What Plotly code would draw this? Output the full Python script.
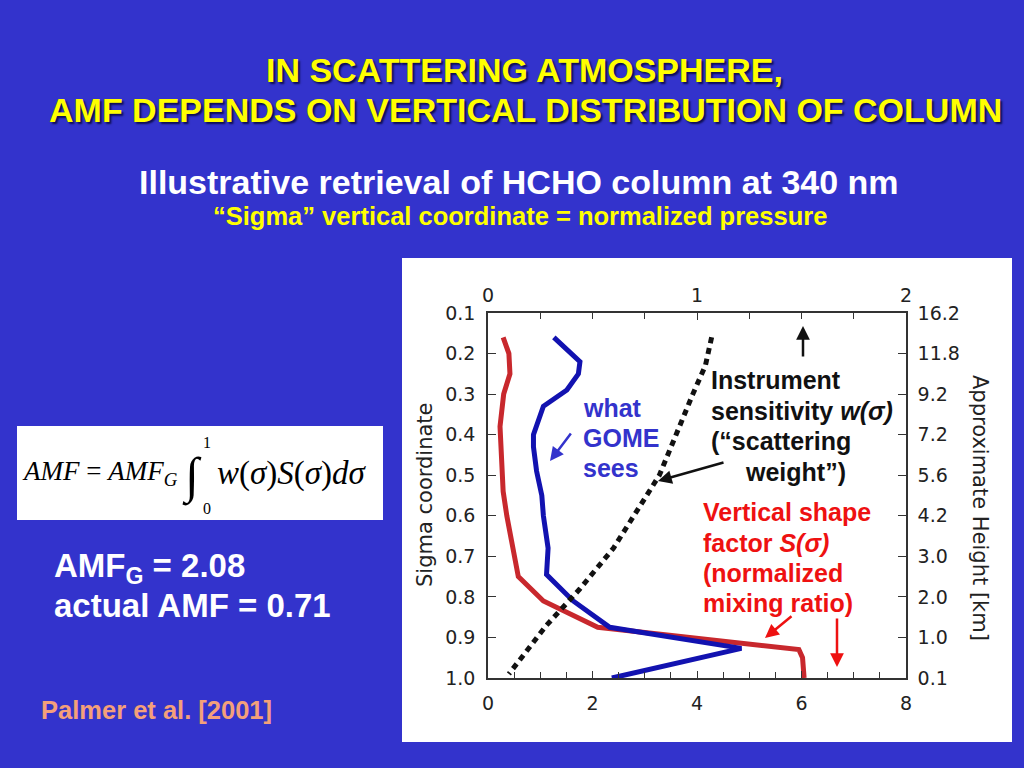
import plotly.graph_objects as go

# ---------------- data ----------------
sigma_ticks = [0.1, 0.2, 0.3, 0.4, 0.5, 0.6, 0.7, 0.8, 0.9, 1.0]
sigma_labels = ["0.1", "0.2", "0.3", "0.4", "0.5", "0.6", "0.7", "0.8", "0.9", "1.0"]
height_labels = ["16.2", "11.8", "9.2", "7.2", "5.6", "4.2", "3.0", "2.0", "1.0", "0.1"]

# vertical shape factor S(sigma)  (bottom axis)
shape_sigma = [0.16, 0.20, 0.25, 0.30, 0.38, 0.46, 0.54, 0.60, 0.75, 0.81, 0.875, 0.93, 0.95, 1.0]
shape_val = [0.29, 0.40, 0.42, 0.30, 0.23, 0.26, 0.29, 0.36, 0.58, 1.06, 2.10, 5.95, 6.02, 6.05]

# what GOME sees w*S (bottom axis)
gome_sigma = [0.16, 0.22, 0.25, 0.29, 0.33, 0.40, 0.43, 0.49, 0.55, 0.60, 0.68, 0.745, 0.81, 0.875, 0.927, 1.0]
gome_val = [1.26, 1.76, 1.73, 1.51, 1.06, 0.87, 0.87, 0.93, 1.03, 1.06, 1.15, 1.12, 1.63, 2.33, 4.85, 2.37]

# scattering weight w(sigma)  (top axis)
w_sigma = [0.16, 0.23, 0.30, 0.40, 0.50, 0.68, 0.78, 0.87, 0.99]
w_val = [1.07, 1.04, 0.98, 0.90, 0.82, 0.60, 0.44, 0.28, 0.10]

# ---------------- layout helpers ----------------
W, H = 1024, 768
PL, PR, PT, PB = 488, 906, 313, 678   # plot area in pixels


def px(x):
    return (x - PL) / (PR - PL)


def py(y):
    return (PB - y) / (PB - PT)


BG = "#3333CC"
SANS = "Arial, Liberation Sans, sans-serif"
SERIF = "Times New Roman, Liberation Serif, serif"
AXFONT = dict(family="DejaVu Sans, sans-serif", size=19, color="#222222")

fig = go.Figure()

fig.add_trace(go.Scatter(x=shape_val, y=shape_sigma, mode="lines",
                         line=dict(color="#C8282D", width=5), xaxis="x", yaxis="y",
                         showlegend=False))
fig.add_trace(go.Scatter(x=gome_val, y=gome_sigma, mode="lines",
                         line=dict(color="#1212B0", width=5), xaxis="x", yaxis="y",
                         showlegend=False))
fig.add_trace(go.Scatter(x=w_val, y=w_sigma, mode="lines",
                         line=dict(color="#111111", width=5, dash="6px,5px"),
                         xaxis="x2", yaxis="y2", showlegend=False))

axline = dict(showline=True, linecolor="#333333", linewidth=1.5, showgrid=False,
              zeroline=False, ticks="inside", tickcolor="#333333", tickfont=AXFONT)

fig.update_layout(
    width=W, height=H,
    margin=dict(l=PL, r=W - PR, t=PT, b=H - PB, pad=0),
    paper_bgcolor=BG, plot_bgcolor="white",
    xaxis=dict(range=[0, 8], tickvals=[0, 2, 4, 6, 8], ticklen=7,
               minor=dict(dtick=0.5, ticks="inside", ticklen=6, tickcolor="#333333"),
               ticklabelstandoff=7, **axline),
    xaxis2=dict(range=[0, 2], tickvals=[0, 1, 2], overlaying="x", side="top", ticklen=7,
                minor=dict(dtick=0.25, ticks="inside", ticklen=6, tickcolor="#333333"),
                ticklabelstandoff=2, **axline),
    yaxis=dict(range=[1.0, 0.1], tickvals=sigma_ticks, ticktext=sigma_labels, ticklen=8,
               ticklabelstandoff=7, **axline),
    yaxis2=dict(range=[1.0, 0.1], tickvals=sigma_ticks, ticktext=height_labels, ticklen=8,
                overlaying="y", side="right", ticklabelstandoff=6, **axline),
)

shapes = [
    # white panel behind the chart
    dict(type="rect", xref="paper", yref="paper", x0=px(402), x1=px(1012), y0=py(742), y1=py(258),
         fillcolor="white", line=dict(width=0), layer="below"),
    # formula box
    dict(type="rect", xref="paper", yref="paper", x0=px(17), x1=px(383), y0=py(520), y1=py(426),
         fillcolor="white", line=dict(width=0), layer="below"),
]
fig.update_layout(shapes=shapes)

ann = []


def text(t, x, y, size, color, family=SANS, xanchor="left", angle=0, shadow=None):
    f = dict(family=family, size=size, color=color)
    if shadow:
        f["shadow"] = shadow
    ann.append(dict(text=t, x=px(x), y=py(y), xref="paper", yref="paper", showarrow=False,
                    xanchor=xanchor, yanchor="middle", font=f, textangle=angle))


def arrow(hx, hy, tx, ty, color, width=2.5):
    ann.append(dict(text="", x=px(hx), y=py(hy), xref="paper", yref="paper",
                    ax=tx - hx, ay=ty - hy, showarrow=True, arrowhead=2, arrowsize=1.1,
                    arrowwidth=width, arrowcolor=color))


SH = "2px 2px 2px rgba(0,0,40,0.75)"
# titles
text("<b>IN SCATTERING ATMOSPHERE,</b>", 524, 70, 34, "#FFFF00", xanchor="center", shadow=SH)
text("<b>AMF DEPENDS ON VERTICAL DISTRIBUTION OF COLUMN</b>", 525, 110, 34, "#FFFF00",
     xanchor="center", shadow=SH)
text("<b>Illustrative retrieval of HCHO column at 340 nm</b>", 519, 182, 34, "white", xanchor="center")
text("<b>\u201cSigma\u201d vertical coordinate = normalized pressure</b>", 520, 216, 25.5, "#FFFF00",
     xanchor="center")

# axis titles
text("Sigma coordinate", 425, 495, 21, "#222222", family="DejaVu Sans, sans-serif",
     xanchor="center", angle=-90)
text("Approximate Height [km]", 980, 508, 21, "#222222", family="DejaVu Sans, sans-serif",
     xanchor="center", angle=90)

# in-chart labels
for i, t in enumerate(["what", "GOME", "sees"]):
    text("<b>%s</b>" % t, 581, 408 + 30 * i, 25, "#3333CC")
text("<b>Instrument</b>", 709, 380, 25, "#111111")
text("<b>sensitivity <i>w(\u03c3)</i></b>", 709, 411, 25, "#111111")
text("<b>(\u201cscattering</b>", 709, 441, 25, "#111111")
text("<b>weight\u201d)</b>", 743, 472, 25, "#111111")
text("<b>Vertical shape</b>", 701, 512, 25, "#EE1111")
text("<b>factor <i>S(\u03c3)</i></b>", 701, 543, 25, "#EE1111")
text("<b>(normalized</b>", 701, 573, 25, "#EE1111")
text("<b>mixing ratio)</b>", 701, 603, 25, "#EE1111")

arrow(550, 461, 572, 432, "#3333CC")
arrow(658, 481, 725, 462, "#111111")
arrow(803, 326, 803, 358, "#111111")
arrow(765, 638, 793, 615, "#EE1111")
arrow(837, 667, 837, 617, "#EE1111")

# formula
text("<i>AMF</i> = <i>AMF<sub>G</sub></i>", 20, 473, 27, "black", family=SERIF)
text("\u222b", 180, 476, 50, "black", family=SERIF)
text("1", 207, 442, 16, "black", family=SERIF, xanchor="center")
text("0", 207, 508, 16, "black", family=SERIF, xanchor="center")
text("<i>w</i>(<i>\u03c3</i>)<i>S</i>(<i>\u03c3</i>)<i>d\u03c3</i>", 215, 473, 33, "black", family=SERIF)

# left-side text
text("<b>AMF<sub>G</sub> = 2.08</b>", 52, 568, 33, "white")
text("<b>actual AMF = 0.71</b>", 52, 605, 33, "white")
text("<b>Palmer et al. [2001]</b>", 39, 710, 25.5, "#F4A07A")

fig.update_layout(annotations=ann)
fig.write_html(
    "out.html",
    config={"displayModeBar": False},
    post_script="document.body.style.margin='0';document.body.style.overflow='hidden';"
                "document.body.style.background='%s';" % BG,
)
